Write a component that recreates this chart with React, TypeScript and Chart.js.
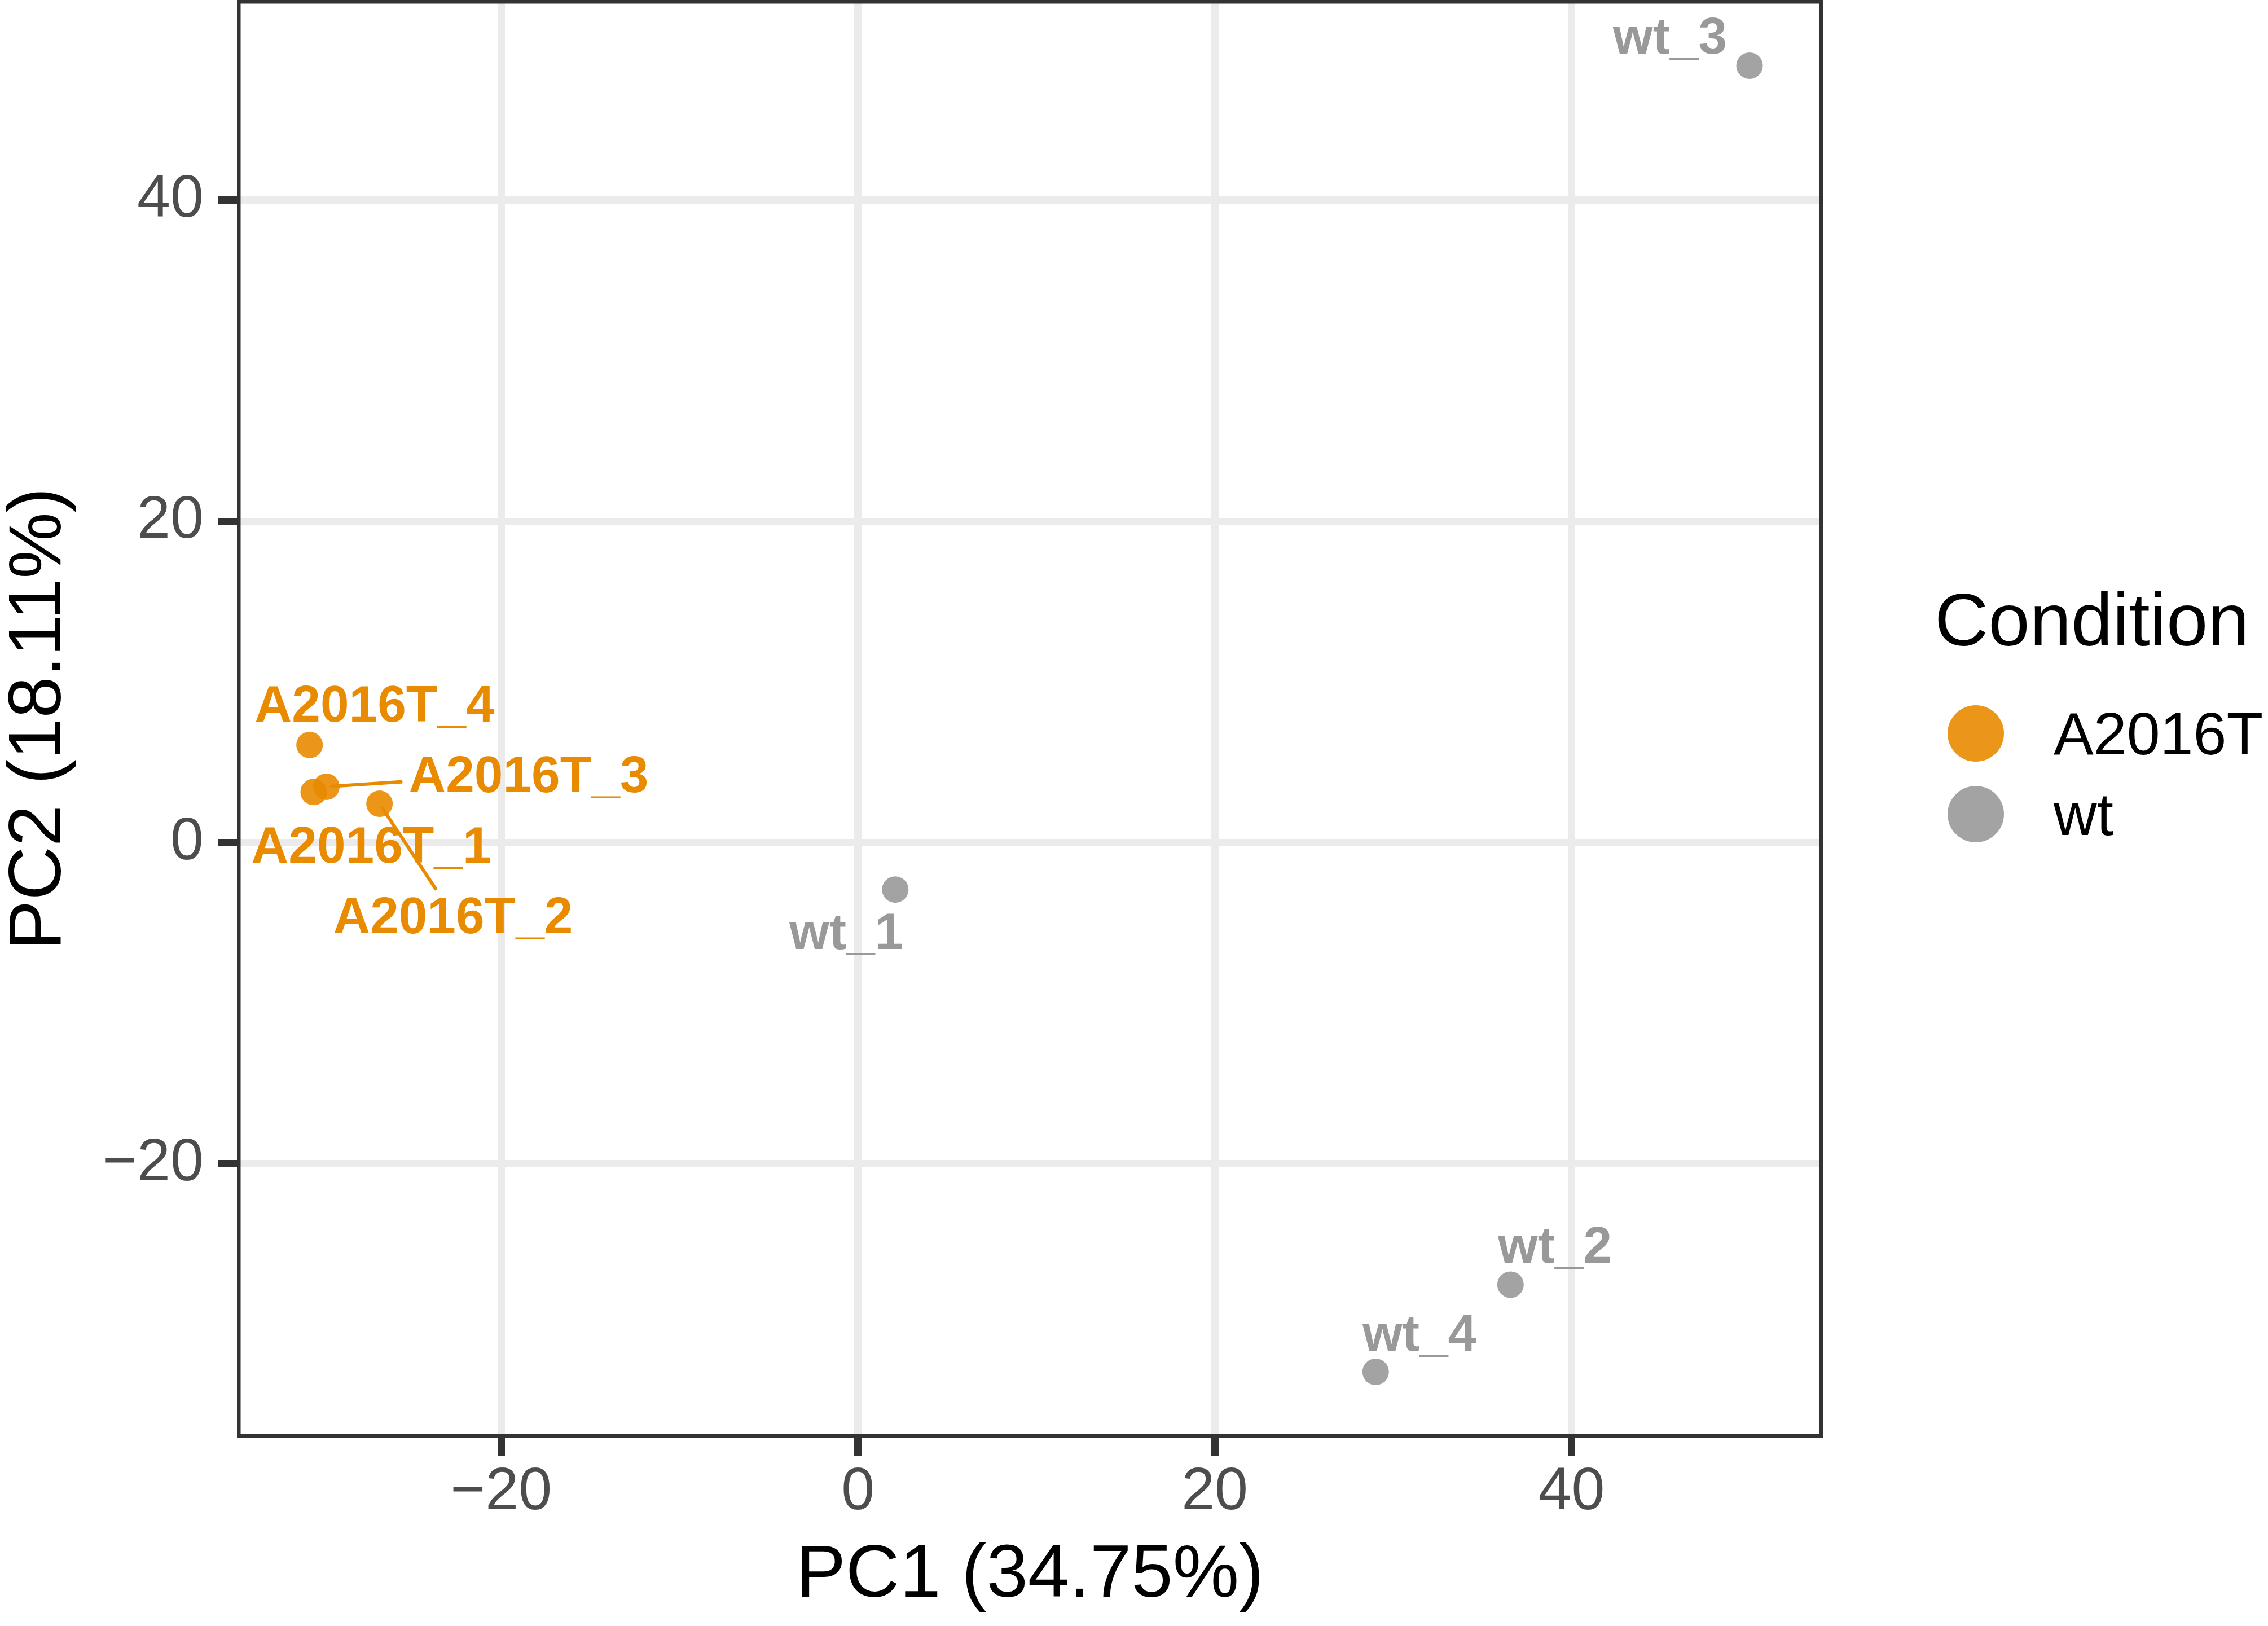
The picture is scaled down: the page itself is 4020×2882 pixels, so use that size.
import React, { useEffect, useRef } from "react";
import { Chart, registerables } from "chart.js";

Chart.register(...registerables);

// ---- data ----
const sampleNames = ["A2016T_1", "A2016T_2", "A2016T_3", "A2016T_4", "wt_1", "wt_2", "wt_3", "wt_4"];
const conditions = ["A2016T", "A2016T", "A2016T", "A2016T", "wt", "wt", "wt", "wt"];
const pc1 = [-30.51, -26.82, -29.8, -30.74, 2.09, 36.58, 49.98, 29.02];
const pc2 = [3.15, 2.42, 3.48, 6.08, -2.92, -27.52, 48.37, -32.95];
// repelled label centres (data units)
const labelX = [-27.28, -22.7, -18.46, -27.09, -0.65, 39.07, 45.52, 31.48];
const labelY = [-0.12, -4.51, 4.3, 8.69, -5.46, -24.99, 50.25, -30.47];
const groups = ["A2016T", "wt"];
const xTickValues = [-20, 0, 20, 40];
const yTickValues = [-20, 0, 20, 40];
const xTitle = "PC1 (34.75%)";
const yTitle = "PC2 (18.11%)";
const legendTitle = "Condition";
const xLimits = [-34.81, 54.09];
const yLimits = [-37.04, 52.46];

// ---- styles ----
const FONT = '"Liberation Sans", Arial, Helvetica, sans-serif';
const groupText = ["#E98B00", "#999999"];
const groupFill = ["rgba(233,139,0,0.9)", "rgba(153,153,153,0.9)"];
const W = 4020;
const H = 2882;

const fmt = (v: number) => (v < 0 ? "\u2212" + Math.abs(v) : String(v));

const labelPlugin = {
  id: "repelLabels",
  afterDatasetsDraw(chart: any) {
    const { ctx, scales } = chart;
    const xs = scales.x;
    const ys = scales.y;
    const size = 91;
    const capH = 0.716 * size;
    const pad = 14;
    ctx.save();
    ctx.font = `bold ${size}px ${FONT}`;
    sampleNames.forEach((name, i) => {
      const g = groups.indexOf(conditions[i]);
      const px = xs.getPixelForValue(pc1[i]);
      const py = ys.getPixelForValue(pc2[i]);
      const lx = xs.getPixelForValue(labelX[i]);
      const ly = ys.getPixelForValue(labelY[i]);
      const w = ctx.measureText(name).width;
      const bx0 = lx - w / 2 - pad;
      const bx1 = lx + w / 2 + pad;
      const by0 = ly - capH / 2 - pad;
      const by1 = ly + capH / 2 + pad;
      const dx = lx - px;
      const dy = ly - py;
      let tx = -Infinity;
      let ty = -Infinity;
      if (dx > 0) tx = (bx0 - px) / dx;
      else if (dx < 0) tx = (bx1 - px) / dx;
      if (dy > 0) ty = (by0 - py) / dy;
      else if (dy < 0) ty = (by1 - py) / dy;
      const t = Math.max(0, Math.min(1, Math.max(tx, ty)));
      const len = Math.hypot(dx, dy);
      const segLen = t * len;
      if (segLen > 100) {
        const ux = dx / len;
        const uy = dy / len;
        ctx.beginPath();
        ctx.strokeStyle = groupText[g];
        ctx.lineWidth = 6;
        ctx.lineCap = "round";
        ctx.moveTo(px + ux * 9, py + uy * 9);
        ctx.lineTo(px + dx * t, py + dy * t);
        ctx.stroke();
      }
      ctx.fillStyle = groupText[g];
      ctx.textAlign = "center";
      ctx.textBaseline = "alphabetic";
      ctx.fillText(name, lx, ly + capH / 2);
    });
    ctx.restore();
  },
};

const borderPlugin = {
  id: "panelBorder",
  afterDatasetsDraw(chart: any) {
    const { ctx, chartArea } = chart;
    const { left, top, right, bottom } = chartArea;
    ctx.save();
    ctx.beginPath();
    ctx.rect(left, top, right - left, bottom - top);
    ctx.clip();
    ctx.strokeStyle = "#333333";
    ctx.lineWidth = 13;
    ctx.strokeRect(left, top, right - left, bottom - top);
    ctx.restore();
  },
};

const legendPlugin = {
  id: "sideLegend",
  afterDraw(chart: any) {
    const { ctx, chartArea } = chart;
    const cx = chartArea.right;
    const cy = (chartArea.top + chartArea.bottom) / 2;
    ctx.save();
    ctx.fillStyle = "#000000";
    ctx.textAlign = "left";
    ctx.textBaseline = "alphabetic";
    ctx.font = `132px ${FONT}`;
    ctx.fillText(legendTitle, cx + 198, cy - 130);
    ctx.font = `106px ${FONT}`;
    groups.forEach((g, i) => {
      const ky = cy + 26 + i * 143;
      ctx.beginPath();
      ctx.fillStyle = groupFill[i];
      ctx.arc(cx + 271, ky, 50, 0, Math.PI * 2);
      ctx.fill();
      ctx.fillStyle = "#000000";
      ctx.fillText(g, cx + 409, ky + 37);
    });
    ctx.restore();
  },
};

export default function App() {
  const ref = useRef<HTMLCanvasElement>(null);
  useEffect(() => {
    document.body.style.margin = "0";
    const canvas = ref.current;
    if (!canvas) return;
    const datasets = groups.map((g, gi) => ({
      label: g,
      data: pc1
        .map((v, i) => ({ x: v, y: pc2[i], c: conditions[i] }))
        .filter((d) => d.c === g)
        .map((d) => ({ x: d.x, y: d.y })),
      pointRadius: 23.5,
      pointHoverRadius: 23.5,
      pointBackgroundColor: groupFill[gi],
      pointBorderColor: "rgba(0,0,0,0)",
      pointBorderWidth: 0,
      showLine: false,
    }));
    const tickFont = { family: FONT, size: 106, lineHeight: 1 };
    const titleFont = { family: FONT, size: 132, lineHeight: 1 };
    const chart = new Chart(canvas, {
      type: "scatter",
      data: { datasets },
      options: {
        animation: false,
        responsive: false,
        maintainAspectRatio: false,
        devicePixelRatio: 1,
        events: [],
        layout: { autoPadding: false, padding: { top: 0, left: 0, bottom: 0, right: 789 } },
        plugins: { legend: { display: false }, tooltip: { enabled: false } },
        scales: {
          x: {
            type: "linear",
            position: "bottom",
            min: xLimits[0],
            max: xLimits[1],
            afterBuildTicks: (s: any) => {
              s.ticks = xTickValues.map((v) => ({ value: v }));
            },
            afterFit: (s: any) => {
              s.height = 334;
              s.paddingLeft = 0;
              s.paddingRight = 0;
            },
            grid: {
              color: "#EBEBEB",
              lineWidth: 13,
              tickColor: "#333333",
              tickWidth: 13,
              tickLength: 33,
            },
            border: { display: false },
            ticks: {
              autoSkip: false,
              maxRotation: 0,
              minRotation: 0,
              padding: 12,
              color: "#4D4D4D",
              font: tickFont,
              callback: (v: any) => fmt(Number(v)),
            },
            title: {
              display: true,
              text: xTitle,
              color: "#000000",
              font: titleFont,
              padding: { top: 0, bottom: 22 },
            },
          },
          y: {
            type: "linear",
            position: "left",
            min: yLimits[0],
            max: yLimits[1],
            afterBuildTicks: (s: any) => {
              s.ticks = yTickValues.map((v) => ({ value: v }));
            },
            afterFit: (s: any) => {
              s.width = 420;
              s.paddingTop = 0;
              s.paddingBottom = 0;
            },
            grid: {
              color: "#EBEBEB",
              lineWidth: 13,
              tickColor: "#333333",
              tickWidth: 13,
              tickLength: 33,
            },
            border: { display: false },
            ticks: {
              autoSkip: false,
              padding: 26,
              color: "#4D4D4D",
              font: tickFont,
              callback: (v: any) => fmt(Number(v)),
            },
            title: {
              display: true,
              text: yTitle,
              color: "#000000",
              font: titleFont,
              padding: { top: 5, bottom: 0 },
            },
          },
        },
      } as any,
      plugins: [labelPlugin, borderPlugin, legendPlugin],
    });
    return () => chart.destroy();
  }, []);
  return (
    <canvas
      ref={ref}
      width={W}
      height={H}
      style={{ display: "block", width: W + "px", height: H + "px" }}
    />
  );
}
